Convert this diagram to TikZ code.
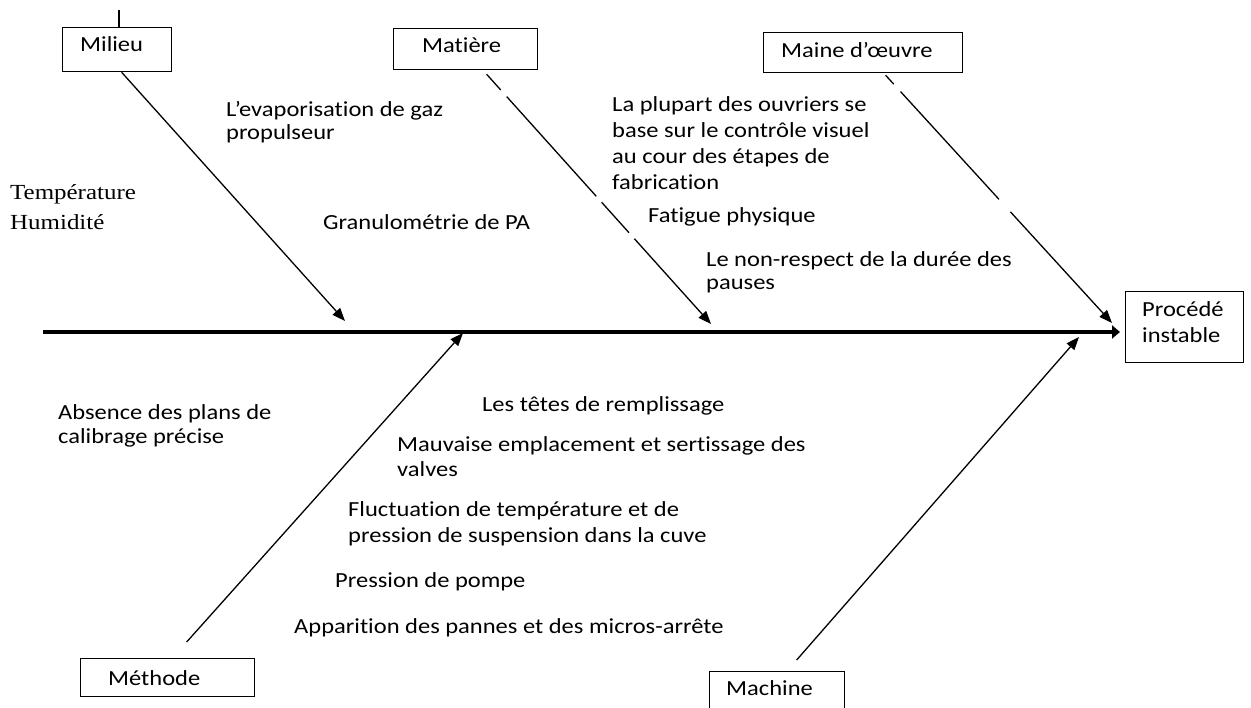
\documentclass[tikz,border=0pt]{standalone}
\usepackage{fontspec}
\setmainfont{Carlito}[FakeStretch=1.14, Ligatures=NoCommon]
\newfontfamily\serifface{Liberation Serif}[FakeStretch=1.16]
\usetikzlibrary{arrows.meta}
\begin{document}
\begin{tikzpicture}[x=1pt,y=-1pt,
  box/.style={draw, line width=1.3pt, inner sep=0pt, anchor=north west},
  txt/.style={inner sep=0pt, anchor=base west, align=left,
              font=\fontsize{21.5}{25}\selectfont},
  sertxt/.style={txt, font=\fontsize{21.5}{25}\serifface},
  branch/.style={line width=1.3pt, -{Triangle[length=13pt,width=10pt]}},
  spine/.style={line width=4.5pt, -{Triangle[length=8pt,width=13pt]}}]
\useasboundingbox (0,0) rectangle (1251,708);

% category boxes
\node[box, minimum width=109pt, minimum height=44pt] (milieu)  at (62,27)   {};
\node[box, minimum width=144pt, minimum height=41pt] (matiere) at (393,28)  {};
\node[box, minimum width=199pt, minimum height=40pt] (maine)   at (763,32)  {};
\node[box, minimum width=118pt, minimum height=71pt] (procede) at (1125,291) {};
\node[box, minimum width=174pt, minimum height=38pt] (methode) at (80,658)  {};
\node[box, minimum width=135pt, minimum height=50pt] (machine) at (709,671) {};

% box titles (multi-line nodes are placed by the baseline of their last line)
\node[txt] (milieut)  at (80,52)   {Milieu};
\node[txt] (matieret) at (422,53)  {Matière};
\node[txt] (mainet)   at (781,58)  {Maine d’œuvre};
\node[txt] (procedet) at (1142,343) {Procédé\\[1pt]instable};
\node[txt] (methodet) at (108,685) {Méthode};
\node[txt] (machinet) at (726,695) {Machine};

% causes, upper side
\node[txt] (evap) at (226,140) {L’evaporisation de gaz\\[-2pt]propulseur};
\node[sertxt] (temp) at (10,200) {Température};
\node[sertxt] (humi) at (10,230) {Humidité};
\node[txt] (granu) at (323,230) {Granulométrie de PA};
\node[txt] (visu) at (612,190) {La plupart des ouvriers se\\[1pt]base sur le contrôle visuel\\[1pt]au cour des étapes de\\[1pt]fabrication};
\node[txt] (fatig) at (648,223) {Fatigue physique};
\node[txt] (pause) at (706,290) {Le non-respect de la durée des\\[-2pt]pauses};

% causes, lower side
\node[txt] (calib) at (58,444) {Absence des plans de\\[-1pt]calibrage précise};
\node[txt] (tetes) at (482,412) {Les têtes de remplissage};
\node[txt] (valve) at (397,477) {Mauvaise emplacement et sertissage des\\valves};
\node[txt] (fluct) at (348,542) {Fluctuation de température et de\\pression de suspension dans la cuve};
\node[txt] (pompe) at (335,587) {Pression de pompe};
\node[txt] (panne) at (294,633) {Apparition des pannes et des micros-arrête};

% spine
\coordinate (tail) at (43,332);
\draw[spine, shorten >=5pt] (tail) -- (tail -| procede.west);

% small tick above Milieu
\coordinate (tick) at (119,10);
\draw[line width=1.3pt] (tick) -- (tick |- milieu.north);

% branch tips on the spine
\coordinate (milieutip)  at (345,321);
\coordinate (matieretip) at (711,324);
\coordinate (mainetip)   at (1112,323);
\coordinate (methodetip) at (463,333);
\coordinate (machinetip) at (1079,337);

% branches
\draw[branch] ([xshift=4.5pt]milieu.south) -- (milieutip);
\draw[branch, dash pattern=on 21pt off 9pt on 134pt off 8pt on 41pt off 8pt on 300pt off 1pt]
  ([xshift=21pt,yshift=-4pt]matiere.south) -- (matieretip);
\draw[branch, dash pattern=on 12pt off 10pt on 146pt off 17pt on 300pt off 1pt]
  ([xshift=22.5pt,yshift=-2pt]maine.south) -- (mainetip);
\draw[branch] ([xshift=19pt,yshift=16pt]methode.north) -- (methodetip);
\draw[branch] ([xshift=19.5pt,yshift=11pt]machine.north) -- (machinetip);
\end{tikzpicture}
\end{document}
